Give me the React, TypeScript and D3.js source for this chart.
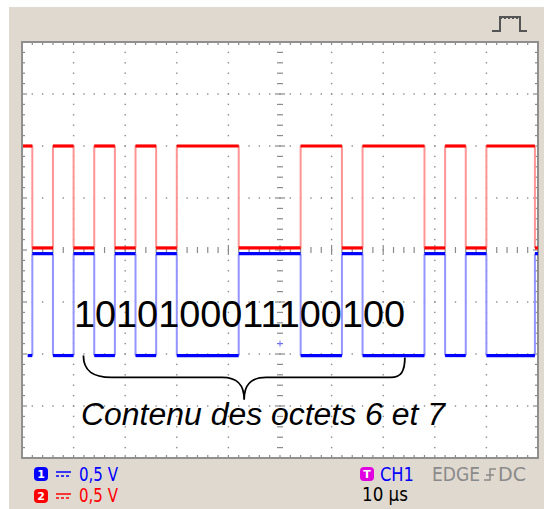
import React from "react";
import * as d3 from "d3";

// Scope settings: 10 µs/div horizontally, 0.5 V/div vertically (units below are divisions)
const TIME_RANGE = [0, 100];
const DIV_RANGE = [-4, 4];
const MAJOR_T = [10, 20, 30, 40, 60, 70, 80, 90];
const MAJOR_V = [-3, -2, -1, 1, 2, 3];

// Edge times (µs); both channels switch together
const edgeTimes = [2, 6, 10, 14, 18, 22, 26, 30, 42, 54, 62, 66, 78, 82, 86, 90, 99.4];
const redLevels = [0.04, 2.0]; // [low, high] in divisions
const blueLevels = [-2.03, -0.07];
const redStart = { t: 0.2, high: true };
const blueStart = { t: 1.1, high: false };

const bitsLabel = "1010100011100100";
const captionLabel = "Contenu des octets 6 et 7";
const braceSpan = [11.9, 74.2]; // µs
const braceLevels = [-2.03, -2.45, -2.88]; // ends, shoulder, tip

const W = 544;
const H = 509;
const PLOT = { left: 22, right: 538, top: 42, bottom: 458 };
const BG = "#e0d9cf";
const GRID = "#8a8a8a";
const FONT = "'Liberation Sans', Arial, sans-serif";
const SCOPE_FONT = "'DejaVu Sans', sans-serif";

function buildTrace(start: { t: number; high: boolean }, levels: number[]) {
  const hs: { t0: number; t1: number; v: number }[] = [];
  const vs: { t: number; v0: number; v1: number }[] = [];
  let t = start.t;
  let high = start.high;
  for (const e of edgeTimes) {
    if (e <= t) continue;
    hs.push({ t0: t, t1: e, v: levels[high ? 1 : 0] });
    vs.push({ t: e, v0: levels[high ? 1 : 0], v1: levels[high ? 0 : 1] });
    high = !high;
    t = e;
  }
  hs.push({ t0: t, t1: TIME_RANGE[1], v: levels[high ? 1 : 0] });
  return { hs, vs };
}

export default function App() {
  const x = d3.scaleLinear().domain(TIME_RANGE).range([PLOT.left, PLOT.right]);
  const y = d3.scaleLinear().domain(DIV_RANGE).range([PLOT.bottom, PLOT.top]);

  const minorT = d3.range(0, 100.001, 2);
  const minorV = d3.range(-4, 4.001, 0.2).map((v) => Math.round(v * 10) / 10);

  const red = buildTrace(redStart, redLevels);
  const blue = buildTrace(blueStart, blueLevels);

  const bx0 = x(braceSpan[0]);
  const bx1 = x(braceSpan[1]);
  const bxm = (bx0 + bx1) / 2;
  const [yEnd, yShoulder, yTip] = braceLevels.map(y);
  const bracePath =
    `M${bx0},${yEnd} C${bx0},${yShoulder - 6} ${bx0 + 10},${yShoulder} ${bx0 + 28},${yShoulder} ` +
    `L${bxm - 22},${yShoulder} C${bxm - 6},${yShoulder} ${bxm},${yShoulder + 8} ${bxm},${yTip} ` +
    `C${bxm},${yShoulder + 8} ${bxm + 6},${yShoulder} ${bxm + 22},${yShoulder} ` +
    `L${bx1 - 14},${yShoulder} C${bx1 - 4},${yShoulder} ${bx1},${yShoulder - 6} ${bx1},${yEnd + 2}`;

  const drawTrace = (tr: ReturnType<typeof buildTrace>, strong: string, light: string) => (
    <g>
      {tr.vs.map((s, i) => (
        <line key={"v" + i} x1={x(s.t)} x2={x(s.t)} y1={y(s.v0)} y2={y(s.v1)} stroke={light} strokeWidth={2} />
      ))}
      {tr.hs.map((s, i) => (
        <line key={"h" + i} x1={x(s.t0)} x2={x(s.t1)} y1={y(s.v)} y2={y(s.v)} stroke={strong} strokeWidth={3.2} />
      ))}
    </g>
  );

  return (
    <svg width={W} height={H} style={{ position: "absolute", left: 0, top: 0, background: "#fff" }}>
      <rect x={9} y={7} width={W - 9} height={H - 7} fill={BG} />
      <rect x={PLOT.left} y={PLOT.top} width={PLOT.right - PLOT.left} height={PLOT.bottom - PLOT.top} fill="#fff" />

      {/* dotted grid */}
      {MAJOR_T.map((t) =>
        minorV.map((v) => <rect key={`gt${t}_${v}`} x={x(t) - 0.7} y={y(v) - 0.7} width={1.4} height={1.4} fill={GRID} />)
      )}
      {MAJOR_V.map((v) =>
        minorT.map((t) => <rect key={`gv${v}_${t}`} x={x(t) - 0.7} y={y(v) - 0.7} width={1.4} height={1.4} fill={GRID} />)
      )}
      {/* centre axes with minor ticks */}
      {minorV.map((v) => {
        const major = Math.abs(v - Math.round(v)) < 1e-6;
        return (
          <line key={`cv${v}`} x1={x(50) - (major ? 5 : 3)} x2={x(50) + (major ? 5 : 3)} y1={y(v)} y2={y(v)} stroke={GRID} strokeWidth={1.2} />
        );
      })}
      {minorT.map((t) => {
        const major = t % 10 === 0;
        return (
          <line key={`ct${t}`} x1={x(t)} x2={x(t)} y1={y(0) - (major ? 5 : 3)} y2={y(0) + (major ? 5 : 3)} stroke={GRID} strokeWidth={1.2} />
        );
      })}
      {/* border ticks */}
      {minorT.map((t) => (
        <g key={`bt${t}`}>
          <line x1={x(t)} x2={x(t)} y1={PLOT.top} y2={PLOT.top + 3} stroke={GRID} strokeWidth={1.2} />
          <line x1={x(t)} x2={x(t)} y1={PLOT.bottom} y2={PLOT.bottom - 3} stroke={GRID} strokeWidth={1.2} />
        </g>
      ))}
      {minorV.map((v) => {
        const major = Math.abs(v - Math.round(v)) < 1e-6;
        return (
          <g key={`bv${v}`}>
            <line x1={PLOT.left} x2={PLOT.left + (major ? 5 : 3)} y1={y(v)} y2={y(v)} stroke={GRID} strokeWidth={1.2} />
            <line x1={PLOT.right} x2={PLOT.right - (major ? 5 : 3)} y1={y(v)} y2={y(v)} stroke={GRID} strokeWidth={1.2} />
          </g>
        );
      })}
      <rect x={PLOT.left} y={PLOT.top} width={PLOT.right - PLOT.left} height={PLOT.bottom - PLOT.top} fill="none" stroke="#8f8f8f" strokeWidth={2} />

      {/* traces */}
      {drawTrace(red, "#ff0000", "#ff9494")}
      {drawTrace(blue, "#0000ff", "#9494ff")}
      <g stroke="#6f6fff" strokeWidth={1}>
        <line x1={x(50) - 3} x2={x(50) + 3} y1={y(-1.8)} y2={y(-1.8)} />
        <line x1={x(50)} x2={x(50)} y1={y(-1.8) - 3} y2={y(-1.8) + 3} />
      </g>

      {/* annotation */}
      <text x={74} y={327} fontFamily={FONT} fontSize={37.5} fill="#000" textLength={331} lengthAdjust="spacingAndGlyphs">{bitsLabel}</text>
      <path d={bracePath} fill="none" stroke="#000" strokeWidth={1.8} />
      <text x={81} y={425} fontFamily={FONT} fontSize={31} fontStyle="italic" fill="#000" textLength={364} lengthAdjust="spacingAndGlyphs">{captionLabel}</text>

      {/* pulse icon */}
      <path d="M492,31 L500,31 L500,17 L520,17 L520,31 L527,31" fill="none" stroke="#555" strokeWidth={2} />
      <path d="M501,19 L503,17 L505,19 L507,17 L509,19 L511,17 L513,19 L515,17 L517,19 L519,17" fill="none" stroke="#555" strokeWidth={1} />

      {/* channel readout */}
      <rect x={34} y={467} width={14} height={14} rx={4} fill="#0000ff" />
      <text x={41} y={478} fontFamily={SCOPE_FONT} fontSize={11} fontWeight="bold" fill="#fff" textAnchor="middle">1</text>
      <line x1={56} x2={71} y1={472} y2={472} stroke="#0000ff" strokeWidth={1.5} />
      <line x1={56} x2={71} y1={476} y2={476} stroke="#0000ff" strokeWidth={1.5} strokeDasharray="3,2" />
      <text x={79} y={481} fontFamily={SCOPE_FONT} fontSize={19} fill="#0000ff" textLength={39} lengthAdjust="spacingAndGlyphs">0,5 V</text>

      <rect x={34} y={489} width={14} height={14} rx={4} fill="#ff0000" />
      <text x={41} y={500} fontFamily={SCOPE_FONT} fontSize={11} fontWeight="bold" fill="#fff" textAnchor="middle">2</text>
      <line x1={56} x2={71} y1={494} y2={494} stroke="#ff0000" strokeWidth={1.5} />
      <line x1={56} x2={71} y1={498} y2={498} stroke="#ff0000" strokeWidth={1.5} strokeDasharray="3,2" />
      <text x={79} y={502} fontFamily={SCOPE_FONT} fontSize={19} fill="#ff0000" textLength={39} lengthAdjust="spacingAndGlyphs">0,5 V</text>

      {/* trigger / timebase */}
      <rect x={360} y={467} width={14} height={14} rx={4} fill="#e000e0" />
      <text x={367} y={478} fontFamily={SCOPE_FONT} fontSize={11} fontWeight="bold" fill="#fff" textAnchor="middle">T</text>
      <text x={380} y={481} fontFamily={SCOPE_FONT} fontSize={19} fill="#0000ff" textLength={34} lengthAdjust="spacingAndGlyphs">CH1</text>
      <text x={432} y={481} fontFamily={SCOPE_FONT} fontSize={19} fill="#8a8a8a" textLength={48} lengthAdjust="spacingAndGlyphs">EDGE</text>
      <path d="M484,480 L490,480 L490,469 L496,469 M486,475 L494,475" fill="none" stroke="#8a8a8a" strokeWidth={1.5} />
      <text x={498} y={481} fontFamily={SCOPE_FONT} fontSize={19} fill="#8a8a8a" textLength={28} lengthAdjust="spacingAndGlyphs">DC</text>
      <text x={362} y={501} fontFamily={SCOPE_FONT} fontSize={19} fill="#000" textLength={46} lengthAdjust="spacingAndGlyphs">10 µs</text>
    </svg>
  );
}
